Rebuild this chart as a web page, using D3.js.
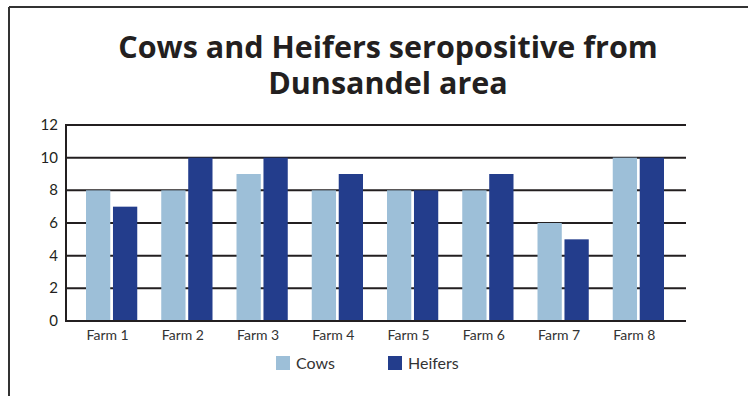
<!DOCTYPE html>
<html>
<head>
<meta charset="utf-8">
<script src="https://cdn.jsdelivr.net/npm/d3@7"></script>
<style>
	body { margin: 0; background: #fff; }
	text { font-family: Lato, "Open Sans", sans-serif; }
	.title { font-family: "Open Sans", sans-serif; }
</style>
</head>
<body>
<div id="chart"></div>
<script>
var farms = ["Farm 1", "Farm 2", "Farm 3", "Farm 4", "Farm 5", "Farm 6", "Farm 7", "Farm 8"]
var cows = [8, 8, 9, 8, 8, 8, 6, 10]
var heifers = [7, 10, 10, 9, 8, 9, 5, 10]
var series = ["Cows", "Heifers"]
var colors = ["#9dbfd8", "#233d8c"]
var yTicks = [0, 2, 4, 6, 8, 10, 12]
var titleLines = ["Cows and Heifers seropositive from", "Dunsandel area"]

var width = 748
var height = 396

var svg = d3
	.select("#chart")
	.append("svg")
	.attr("width", width)
	.attr("height", height)

// frame (top and left edge only are visible)
svg.append("line").attr("x1", 9).attr("y1", 7).attr("x2", width).attr("y2", 7)
	.attr("stroke", "#333").attr("stroke-width", 2)
svg.append("line").attr("x1", 9).attr("y1", 7).attr("x2", 9).attr("y2", height)
	.attr("stroke", "#333").attr("stroke-width", 2)

// title, two lines in one text element
var title = svg.append("text")
	.attr("class", "title")
	.attr("text-anchor", "middle")
	.style("font-size", "30.5px").style("font-weight", "bold").style("fill", "#231f20")
title.selectAll("tspan")
	.data(titleLines)
	.enter()
	.append("tspan")
	.attr("x", 388)
	.attr("y", function(d, i) { return 58 + i * 36 })
	.text(function(d) { return d })

var plotLeft = 66, plotRight = 686, plotTop = 125, plotBottom = 321

var y = d3.scaleLinear().domain([0, 12]).range([plotBottom, plotTop])
var x = d3.scaleBand().domain(farms).range([74, 676])
var xs = d3.scaleBand().domain(series).range([12, x.bandwidth() - 12]).paddingInner(0.1)

// gridlines
svg.selectAll(".grid")
	.data(yTicks)
	.enter()
	.append("line")
	.attr("x1", plotLeft).attr("x2", plotRight)
	.attr("y1", function(d) { return y(d) })
	.attr("y2", function(d) { return y(d) })
	.attr("stroke", "#231f20")
	.attr("stroke-width", 2)

// y axis line
svg.append("line").attr("x1", plotLeft).attr("x2", plotLeft)
	.attr("y1", plotTop - 1).attr("y2", plotBottom + 1)
	.attr("stroke", "#231f20").attr("stroke-width", 2)

// y tick labels
svg.selectAll(".ylab")
	.data(yTicks)
	.enter()
	.append("text")
	.attr("x", 58)
	.attr("y", function(d) { return y(d) + 5 })
	.attr("text-anchor", "end")
	.style("font-size", "15px").style("fill", "#231f20")
	.text(function(d) { return d })

// bars
var groups = svg.selectAll(".farm")
	.data(farms)
	.enter()
	.append("g")
	.attr("transform", function(d) { return "translate(" + x(d) + ",0)" })

groups.selectAll("rect")
	.data(function(d, i) { return [{ s: "Cows", v: cows[i] }, { s: "Heifers", v: heifers[i] }] })
	.enter()
	.append("rect")
	.attr("x", function(d) { return xs(d.s) })
	.attr("width", xs.bandwidth())
	.attr("y", function(d) { return y(d.v) })
	.attr("height", function(d) { return plotBottom - 1 - y(d.v) })
	.style("fill", function(d, i) { return colors[i] })

// x labels
svg.selectAll(".xlab")
	.data(farms)
	.enter()
	.append("text")
	.attr("x", function(d) { return x(d) + x.bandwidth() / 2 - 4 })
	.attr("y", 340)
	.attr("text-anchor", "middle")
	.style("font-size", "14px").style("fill", "#333")
	.text(function(d) { return d })

// legend
var legendX = [276, 388]
series.forEach(function(s, i) {
	svg.append("rect")
		.attr("x", legendX[i]).attr("y", 356)
		.attr("width", 14).attr("height", 14)
		.style("fill", colors[i])
	svg.append("text")
		.attr("x", legendX[i] + 20).attr("y", 369)
		.style("font-size", "16px").style("fill", "#333")
		.text(s)
})
</script>
</body>
</html>
